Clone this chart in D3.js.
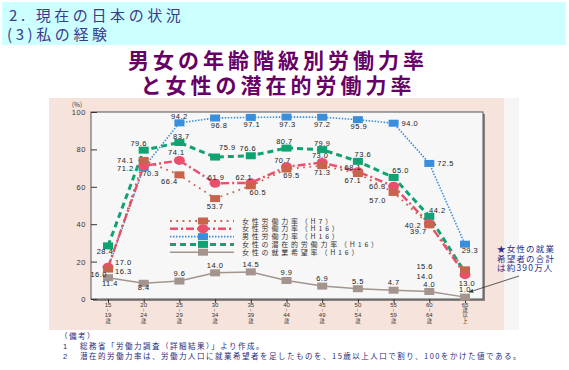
<!DOCTYPE html>
<html>
<head>
<meta charset="utf-8">
<script src="https://cdn.jsdelivr.net/npm/d3@7"></script>
<style>
  body { margin: 0; background: #fff; }
  svg { display: block; }
  .jp { font-family: "Noto Sans CJK JP", sans-serif; }
  .num { font-family: "Liberation Sans", Arial, sans-serif; }
</style>
</head>
<body>
<div id="chart"></div>
<script>
// ---- data ----
const ageGroups = ["15-19", "20-24", "25-29", "30-34", "35-39", "40-44", "45-49", "50-54", "55-59", "60-64", "65+"];
const ageTickLabels = [
  ["15", "~", "19", "歳"], ["20", "~", "24", "歳"], ["25", "~", "29", "歳"], ["30", "~", "34", "歳"],
  ["35", "~", "39", "歳"], ["40", "~", "44", "歳"], ["45", "~", "49", "歳"], ["50", "~", "54", "歳"],
  ["55", "~", "59", "歳"], ["60", "~", "64", "歳"], ["65", "歳", "以", "上"]
];
const femaleH7 = [16.0, 74.1, 66.4, 53.7, 60.5, 69.5, 71.3, 67.1, 57.0, 39.7, 15.6];
const femaleH16 = [17.0, 71.2, 74.1, 61.9, 62.1, 70.7, 73.0, 68.1, 60.3, 40.2, 13.0];
const maleH16 = [16.3, 70.3, 94.2, 96.8, 97.1, 97.3, 97.2, 95.9, 94.0, 72.5, 29.3];
const femalePotential = [28.4, 79.6, 83.7, 75.9, 76.6, 80.7, 79.9, 73.6, 65.0, 44.2, 14.0];
const femaleDesire = [11.4, 8.4, 9.6, 14.0, 14.5, 9.9, 6.9, 5.5, 4.7, 4.0, 1.0];
const yTicks = [0, 20, 40, 60, 80, 100];
const seriesNames = ["女性労働力率（H7）", "女性労働力率（H16）", "男性労働力率（H16）", "女性の潜在的労働力率（H16）", "女性の就業希望率（H16）"];

// label placement (layout only): [dx, dy, anchor]
const labelPos = {
  h7: [[-1, 8, "end"], [-10, 3, "end"], [-10, 9, "middle"], [0, 10, "middle"], [7, 9, "middle"], [5, 9, "middle"],
       [0, 9, "middle"], [-5, 9, "middle"], [-16, 11, "middle"], [-11, 9, "middle"], [-32, -1, "end"]],
  h16: [[7, -2, "start"], [-10, 5, "end"], [-3, -5, "middle"], [1, -3, "middle"], [-7, -3, "middle"], [-4, -4, "middle"],
        [-2, -4, "middle"], [-5, -2, "middle"], [-8, 3, "end"], [-8, 4, "end"], [2, 11, "middle"]],
  male: [[7, 5, "start"], [7, 8, "middle"], [0, -4, "middle"], [4, 10, "middle"], [1, 10, "middle"], [1, 10, "middle"],
         [0, 10, "middle"], [1, 9, "middle"], [8, 3, "start"], [8, 3, "start"], [5, 9, "middle"]],
  pot: [[-3, 8, "middle"], [-5, -4, "middle"], [2, -3, "middle"], [4, -7, "start"], [-3, -5, "middle"], [-2, -4, "middle"],
        [0, -4, "middle"], [5, -4, "middle"], [7, -4, "middle"], [8, -3, "middle"], [-32, 6, "end"]],
  des: [[2, 8, "middle"], [0, 7, "middle"], [0, -5, "middle"], [0, -5, "middle"], [0, -5, "middle"], [0, -5, "middle"],
        [0, -5, "middle"], [0, -5, "middle"], [0, -5, "middle"], [0, -5, "middle"], [0, -5, "middle"]]
};

const W = 569, H = 370;
const svg = d3.select("#chart").append("svg").attr("width", W).attr("height", H);

// header band
svg.append("rect").attr("x", 2).attr("y", 2).attr("width", 564).attr("height", 43).attr("fill", "#ccffff");
svg.append("text").attr("class", "jp").attr("x", 9).attr("y", 21)
  .attr("font-size", 15).attr("letter-spacing", 3.6).attr("fill", "#3b3b8a").text("2. 現在の日本の状況");
svg.append("text").attr("class", "jp").attr("x", 7).attr("y", 40)
  .attr("font-size", 15).attr("letter-spacing", 3.6).attr("fill", "#3b3b8a").text("(3)私の経験");

// title
svg.append("text").attr("class", "jp").attr("x", 278).attr("y", 68).attr("text-anchor", "middle")
  .attr("font-size", 21).attr("font-weight", "bold").attr("letter-spacing", 4).attr("fill", "#660066")
  .text("男女の年齢階級別労働力率");
svg.append("text").attr("class", "jp").attr("x", 278).attr("y", 93).attr("text-anchor", "middle")
  .attr("font-size", 21).attr("font-weight", "bold").attr("letter-spacing", 4).attr("fill", "#660066")
  .text("と女性の潜在的労働力率");

// panel background
svg.append("rect").attr("x", 49).attr("y", 98).attr("width", 470).attr("height", 232).attr("fill", "#f5f5f5");
svg.append("rect").attr("x", 49).attr("y", 98).attr("width", 455).attr("height", 232).attr("fill", "#f6e3dc");

// scales
const x = d3.scalePoint().domain(ageGroups).range([108, 465]);
const y = d3.scaleLinear().domain([0, 100]).range([299, 112]);
const plotL = 91, plotR = 483;

// plot frame
svg.append("rect").attr("x", plotL + 2).attr("y", y(100) + 2).attr("width", plotR - plotL).attr("height", y(0) - y(100))
  .attr("fill", "#8c8282");
svg.append("rect").attr("x", plotL).attr("y", y(100)).attr("width", plotR - plotL).attr("height", y(0) - y(100))
  .attr("fill", "#f7f7f7").attr("stroke", "#555").attr("stroke-width", 1);

// y axis
const yAxis = svg.append("g").attr("transform", "translate(" + plotL + ",0)")
  .call(d3.axisRight(y).tickValues(yTicks).tickSize(6).tickFormat(""));
yAxis.select(".domain").remove();
yAxis.selectAll("line").attr("stroke", "#333");
svg.selectAll(".ylab").data(yTicks).enter().append("text")
  .attr("class", "num ylab").attr("x", 86).attr("y", d => y(d) + 3).attr("text-anchor", "end")
  .attr("font-size", 7.5).attr("letter-spacing", 0.6).attr("fill", "#333").text(d => d);
svg.append("text").attr("class", "jp").attr("x", 77).attr("y", 107).attr("text-anchor", "middle")
  .attr("font-size", 6.5).attr("fill", "#333").text("(%)");

// x axis
const xAxis = svg.append("g").attr("transform", "translate(0," + y(0) + ")")
  .call(d3.axisBottom(x).tickSize(4).tickFormat(""));
xAxis.select(".domain").remove();
xAxis.selectAll("line").attr("stroke", "#333");
ageGroups.forEach((g, i) => {
  ageTickLabels[i].forEach((t, j) => {
    const ty = 307 + j * 5.2;
    if (t === "~") {
      svg.append("text").attr("class", "num").attr("font-size", 5.5).attr("fill", "#333")
        .attr("text-anchor", "middle")
        .attr("transform", "translate(" + x(g) + "," + (ty - 2) + ") rotate(90)").attr("dy", "0.3em").text("~");
    } else {
      svg.append("text").attr("class", /\d/.test(t) ? "num" : "jp").attr("x", x(g)).attr("y", ty)
        .attr("text-anchor", "middle").attr("font-size", /\d/.test(t) ? 6 : 5.2).attr("fill", "#333").text(t);
    }
  });
});

// series setup
const series = [
  { key: "des", values: femaleDesire, color: "#a3948e", width: 1.5, dash: null, marker: "rect" },
  { key: "pot", values: femalePotential, color: "#0fa272", width: 3, dash: "6,4", marker: "rect" },
  { key: "male", values: maleH16, color: "#3a8fdc", width: 1.6, dash: "1.5,1.5", marker: "rect" },
  { key: "h16", values: femaleH16, color: "#ea4f6c", width: 2.4, dash: "8,3,2,3", marker: "circle" },
  { key: "h7", values: femaleH7, color: "#c8644c", width: 1.8, dash: "1.8,4.5", marker: "rect" }
];

const line = d3.line().x((d, i) => x(ageGroups[i])).y(d => y(d));

series.forEach(s => {
  svg.append("path").datum(s.values).attr("d", line)
    .attr("fill", "none").attr("stroke", s.color).attr("stroke-width", s.width)
    .attr("stroke-dasharray", s.dash);
});

function drawMarker(g, type, cx, cy, color) {
  if (type === "circle") {
    g.append("ellipse").attr("cx", cx).attr("cy", cy).attr("rx", 5.5).attr("ry", 4.5).attr("fill", color);
  } else {
    g.append("rect").attr("x", cx - 5).attr("y", cy - 3.5).attr("width", 10).attr("height", 7).attr("fill", color);
  }
}

series.forEach(s => {
  const g = svg.append("g");
  s.values.forEach((v, i) => drawMarker(g, s.marker, x(ageGroups[i]), y(v), s.color));
});

// value labels
series.forEach(s => {
  svg.selectAll(".lab-" + s.key).data(s.values).enter().append("text")
    .attr("class", "num lab-" + s.key)
    .attr("x", (d, i) => x(ageGroups[i]) + labelPos[s.key][i][0])
    .attr("y", (d, i) => y(d) + labelPos[s.key][i][1])
    .attr("text-anchor", (d, i) => labelPos[s.key][i][2])
    .attr("font-size", 7.5).attr("letter-spacing", 0.5).attr("fill", "#222")
    .text(d => d3.format(".1f")(d));
});

// legend
const legendOrder = ["h7", "h16", "male", "pot", "des"];
legendOrder.forEach((k, i) => {
  const s = series.find(d => d.key === k);
  const ly = 221 + i * 7.8;
  svg.append("line").attr("x1", 170).attr("x2", 234).attr("y1", ly).attr("y2", ly)
    .attr("stroke", s.color).attr("stroke-width", s.width).attr("stroke-dasharray", s.dash);
  drawMarker(svg, s.marker, 203, ly, s.color);
  svg.append("text").attr("class", "jp").attr("x", 242).attr("y", ly + 2.5)
    .attr("font-size", 7).attr("letter-spacing", 2.8).attr("fill", "#333").text(seriesNames[i]);
});

// annotation
const note = ["★女性の就業", "希望者の合計", "は約390万人"];
note.forEach((t, i) => {
  svg.append("text").attr("class", "jp").attr("x", 497).attr("y", 252 + i * 9.5)
    .attr("font-size", 8.5).attr("letter-spacing", 1.2).attr("fill", "#2e2e8a").text(t);
});
svg.append("defs").append("marker").attr("id", "arr").attr("viewBox", "0 0 10 10")
  .attr("refX", 9).attr("refY", 5).attr("markerWidth", 6).attr("markerHeight", 6).attr("orient", "auto")
  .append("path").attr("d", "M0,1 L10,5 L0,9 Z").attr("fill", "#333");
svg.append("line").attr("x1", 519).attr("y1", 276).attr("x2", x("65+") + 4).attr("y2", y(femaleDesire[10]) - 5)
  .attr("stroke", "#333").attr("stroke-width", 0.8).attr("marker-end", "url(#arr)");

// footnotes
const notes = [
  { n: "", t: "（備考）", x: 60 },
  { n: "1", t: "総務省「労働力調査（詳細結果）」より作成。", x: 80 },
  { n: "2", t: "潜在的労働力率は、労働力人口に就業希望者を足したものを、15歳以上人口で割り、100をかけた値である。", x: 80 }
];
notes.forEach((d, i) => {
  const ny = 339 + i * 10;
  if (d.n) {
    svg.append("text").attr("class", "num").attr("x", 63).attr("y", ny)
      .attr("font-size", 7.5).attr("fill", "#2a2a7a").text(d.n);
  }
  svg.append("text").attr("class", "jp").attr("x", d.x).attr("y", ny)
    .attr("font-size", 7.5).attr("letter-spacing", 1.5).attr("fill", "#2a2a7a").text(d.t);
});
</script>
</body>
</html>
